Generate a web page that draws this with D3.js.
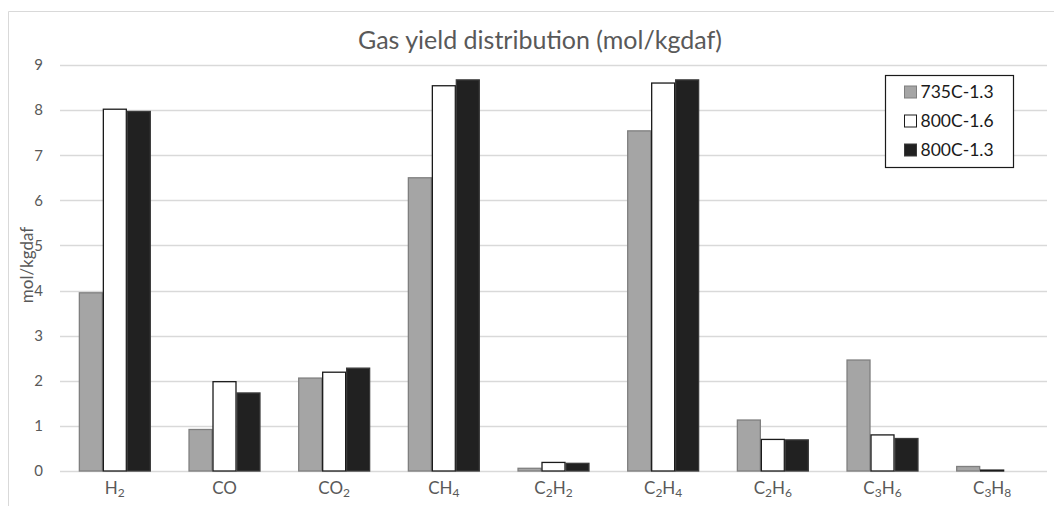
<!DOCTYPE html>
<html>
<head>
<meta charset="utf-8">
<script src="https://cdn.jsdelivr.net/npm/d3@7"></script>
<style>
  body { margin: 0; background: #fff; }
  svg { display: block; font-family: Lato, "Open Sans", sans-serif; }
</style>
</head>
<body>
<svg id="chart" width="1054" height="506"></svg>
<script>
// gas species on the x axis (digits are drawn as subscripts)
const gases = ['H2', 'CO', 'CO2', 'CH4', 'C2H2', 'C2H4', 'C2H6', 'C3H6', 'C3H8'];
const seriesNames = ['735C-1.3', '800C-1.6', '800C-1.3'];
const yTicks = [0, 1, 2, 3, 4, 5, 6, 7, 8, 9];

// yields in mol/kgdaf
const yield735_13 = [3.95, 0.92, 2.06, 6.50, 0.06, 7.54, 1.13, 2.46, 0.10];
const yield800_16 = [8.02, 1.98, 2.19, 8.54, 0.19, 8.60, 0.70, 0.80, 0.02];
const yield800_13 = [7.97, 1.73, 2.28, 8.67, 0.17, 8.67, 0.69, 0.72, 0.00];

const fills = { '735C-1.3': '#a5a5a5', '800C-1.6': '#ffffff', '800C-1.3': '#212121' };
const strokes = { '735C-1.3': '#7f7f7f', '800C-1.6': '#1a1a1a', '800C-1.3': '#3a3a3a' };

const allSeries = [yield735_13, yield800_16, yield800_13];
const rows = gases.map((g, i) => ({
    gas: g,
    values: seriesNames.map((s, j) => ({ series: s, value: allSeries[j][i] }))
}));

const svg = d3.select('#chart');
const margin = { top: 65, right: 7, bottom: 35, left: 60 };
const width = 1054, height = 506;
const innerWidth = width - margin.left - margin.right;
const innerHeight = height - margin.top - margin.bottom;

// chart border: only top and left edges are visible in the source (it is cropped)
svg.append('path')
    .attr('d', `M8.5,${height}V11.5H${width}`)
    .attr('fill', 'none')
    .attr('stroke', '#d9d9d9');

const g = svg.append('g').attr('transform', `translate(${margin.left},${margin.top})`);

const x = d3.scaleBand()
    .domain(gases)
    .range([0, innerWidth])
    .paddingInner(0.344)
    .paddingOuter(0.172);

const xs = d3.scaleBand()
    .domain(seriesNames)
    .range([0, x.bandwidth()]);

const y = d3.scaleLinear()
    .domain([0, 9])
    .range([innerHeight, 0]);

// gridlines
g.append('g')
    .selectAll('line')
    .data(yTicks)
    .join('line')
    .attr('x1', 0).attr('x2', innerWidth)
    .attr('y1', d => Math.round(y(d)) + 0.5)
    .attr('y2', d => Math.round(y(d)) + 0.5)
    .attr('stroke', '#d9d9d9')
    .attr('stroke-width', 1.3);

// y axis labels
const yAxis = g.append('g')
    .call(d3.axisLeft(y).tickValues(yTicks).tickSize(0).tickPadding(17));
yAxis.select('.domain').remove();
yAxis.selectAll('text')
    .attr('fill', '#595959')
    .style('font-size', '15px')
    .style('font-family', 'Lato, "Open Sans", sans-serif');

// bars
const groups = g.selectAll('.gas')
    .data(rows)
    .join('g')
    .attr('class', 'gas')
    .attr('transform', d => `translate(${x(d.gas)},0)`);

groups.selectAll('rect')
    .data(d => d.values)
    .join('rect')
    .attr('x', d => xs(d.series) + 0.5)
    .attr('width', xs.bandwidth() - 1)
    .attr('y', d => y(d.value))
    .attr('height', d => y(0) - y(d.value))
    .attr('fill', d => fills[d.series])
    .attr('stroke', d => strokes[d.series])
    .attr('stroke-width', 1.3);

// x axis labels, digits as subscripts
const xAxis = g.append('g')
    .attr('transform', `translate(0,${innerHeight})`)
    .call(d3.axisBottom(x).tickSize(0).tickPadding(11));
xAxis.select('.domain').remove();
xAxis.selectAll('text')
    .attr('fill', '#595959')
    .style('font-size', '17px')
    .style('font-family', 'Lato, "Open Sans", sans-serif')
    .each(function(d) {
        const t = d3.select(this).text(null);
        let low = false;
        d.match(/[A-Z][a-z]?|\d+/g).forEach(part => {
            const isSub = /\d/.test(part);
            const span = t.append('tspan').text(part);
            if (isSub) span.style('font-size', '12px');
            if (isSub && !low) span.attr('dy', 3);
            else if (!isSub && low) span.attr('dy', -3);
            low = isSub;
        });
    });

// y title
svg.append('text')
    .attr('transform', 'rotate(-90)')
    .attr('x', -265)
    .attr('y', 33)
    .attr('text-anchor', 'middle')
    .attr('fill', '#595959')
    .style('font-size', '17px')
    .text('mol/kgdaf');

// chart title
svg.append('text')
    .attr('x', 540)
    .attr('y', 49)
    .attr('text-anchor', 'middle')
    .attr('fill', '#595959')
    .style('font-size', '25px')
    .text('Gas yield distribution (mol/kgdaf)');

// legend
const legend = svg.append('g').attr('transform', 'translate(885.5,75.5)');
legend.append('rect')
    .attr('width', 128).attr('height', 92)
    .attr('fill', '#fff')
    .attr('stroke', '#1a1a1a')
    .attr('stroke-width', 1.2);

const items = legend.selectAll('.item')
    .data(seriesNames)
    .join('g')
    .attr('class', 'item')
    .attr('transform', (d, i) => `translate(0,${16.5 + i * 29})`);

items.append('rect')
    .attr('x', 19).attr('y', -6)
    .attr('width', 12).attr('height', 12)
    .attr('fill', d => fills[d])
    .attr('stroke', d => strokes[d]);

items.append('text')
    .attr('x', 35)
    .attr('y', 6)
    .attr('fill', '#1a1a1a')
    .style('font-size', '17.5px')
    .text(d => d);
</script>
</body>
</html>
